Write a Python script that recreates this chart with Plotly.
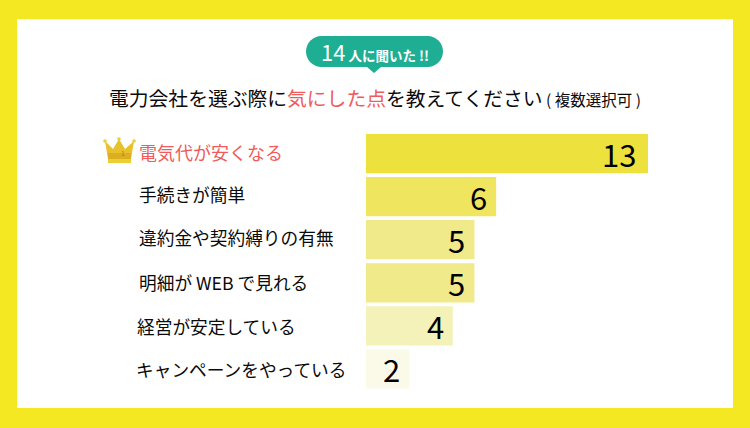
import plotly.graph_objects as go

categories = ["電気代が安くなる", "手続きが簡単", "違約金や契約縛りの有無", "明細が WEB で見れる", "経営が安定している", "キャンペーンをやっている"]
values = [13, 6, 5, 5, 4, 2]
bar_colors = ["#EDE23D", "#EFE55E", "#F1EA8A", "#F1EA8A", "#F4F2B8", "#FBFAE9"]

W, H = 750, 428
FONT = "Noto Sans CJK JP"
RED = "#EF5B5B"
INK = "#0A0A0A"
label_x = [137, 137, 137, 137, 135, 134]
label_up = [2, 3, 3, 1, 0, 0]

def px(x):
    return x / W

def py(y):
    return 1 - y / H

def path(points):
    return "M" + " L".join(f"{px(x):.5f},{py(y):.5f}" for x, y in points) + " Z"

def shape(d, color):
    return dict(type="path", xref="paper", yref="paper", path=d, fillcolor=color, line=dict(width=0), layer="below")

def pill(x0, x1, y0, y1):
    r = (y1 - y0) / 2
    return (f"M{px(x0+r):.5f},{py(y0):.5f} L{px(x1-r):.5f},{py(y0):.5f} "
            f"C{px(x1-r*0.45):.5f},{py(y0):.5f} {px(x1):.5f},{py(y0+r*0.45):.5f} {px(x1):.5f},{py(y0+r):.5f} "
            f"C{px(x1):.5f},{py(y1-r*0.45):.5f} {px(x1-r*0.45):.5f},{py(y1):.5f} {px(x1-r):.5f},{py(y1):.5f} "
            f"L{px(x0+r):.5f},{py(y1):.5f} "
            f"C{px(x0+r*0.45):.5f},{py(y1):.5f} {px(x0):.5f},{py(y1-r*0.45):.5f} {px(x0):.5f},{py(y0+r):.5f} "
            f"C{px(x0):.5f},{py(y0+r*0.45):.5f} {px(x0+r*0.45):.5f},{py(y0):.5f} {px(x0+r):.5f},{py(y0):.5f} Z")

fig = go.Figure(go.Bar(
    x=values, y=categories, orientation="h",
    marker=dict(color=bar_colors, line=dict(width=0)),
    hoverinfo="skip",
))

shapes = [
    dict(type="rect", xref="paper", yref="paper", x0=px(17), x1=px(733), y0=py(408), y1=py(19),
         fillcolor="#FFFFFF", line=dict(width=0), layer="below"),
    shape(pill(306, 443, 36, 67), "#1EAE93"),
    shape(path([(367, 67), (381, 67), (374, 73)]), "#1EAE93"),
    # crown
    shape(path([(105, 141), (113, 149), (119, 139), (125, 149), (134, 141), (131, 159), (108, 159)]), "#E8C22C"),
    shape(path([(108, 153), (131, 153), (131, 159), (108, 159)]), "#DDAE20"),
    shape(path([(108, 159), (131, 159), (131, 163), (108, 163)]), "#EBD034"),
]
for cx, cy in [(105, 141), (119, 139), (134, 141)]:
    shapes.append(dict(type="circle", xref="paper", yref="paper", x0=px(cx-1.8), x1=px(cx+1.8),
                       y0=py(cy+1.8), y1=py(cy-1.8), fillcolor="#EBD034", line=dict(width=0), layer="below"))

anns = []
for i, (c, v) in enumerate(zip(categories, values)):
    anns.append(dict(x=px(label_x[i]), xref="paper", y=c, yref="y", text=c, showarrow=False, xanchor="left", yanchor="middle",
                     yshift=label_up[i], font=dict(family=FONT, size=17.7 if i else 18, color=RED if i == 0 else INK)))
    anns.append(dict(x=v, xref="x", y=c, yref="y", text=str(v), showarrow=False, xanchor="right", yanchor="middle",
                     xshift=-10 if v > 9 else -7, font=dict(family=FONT, size=31, color="#000000")))

anns.append(dict(x=px(107), y=py(98), xref="paper", yref="paper", xanchor="left", yanchor="middle", showarrow=False,
                 text=(f"電力会社を選ぶ際に<span style='color:{RED}'>気にした点</span>を教えてください"
                       "<span style='font-size:15.5px'> ( 複数選択可 )</span>"),
                 font=dict(family=FONT, size=19.8, color=INK)))
anns.append(dict(x=px(375), y=py(50.5), xref="paper", yref="paper", xanchor="center", yanchor="middle", showarrow=False,
                 text="14<span style='font-size:13.5px;font-weight:700'> 人に聞いた !!</span>",
                 font=dict(family=FONT, size=22, color="#FFFFFF")))
anns.append(dict(x=px(119), y=py(153), xref="paper", yref="paper", showarrow=False, text="1",
                 font=dict(family=FONT, size=7, color="#A8851A")))

fig.update_layout(
    width=W, height=H, margin=dict(l=0, r=0, t=0, b=0),
    paper_bgcolor="#F4E823", plot_bgcolor="rgba(0,0,0,0)",
    bargap=0.09, showlegend=False, shapes=shapes, annotations=anns,
    xaxis=dict(domain=[px(366), px(648)], range=[0, 13], visible=False, fixedrange=True),
    yaxis=dict(domain=[py(390.5), py(132)], autorange=False, range=[5.5, -0.5], type="category",
               categoryorder="array", categoryarray=categories, visible=False, fixedrange=True),
)
fig.write_html("out.html", config=dict(displayModeBar=False), include_plotlyjs=True,
               post_script="document.body.style.margin='0';document.body.style.overflow='hidden';")
